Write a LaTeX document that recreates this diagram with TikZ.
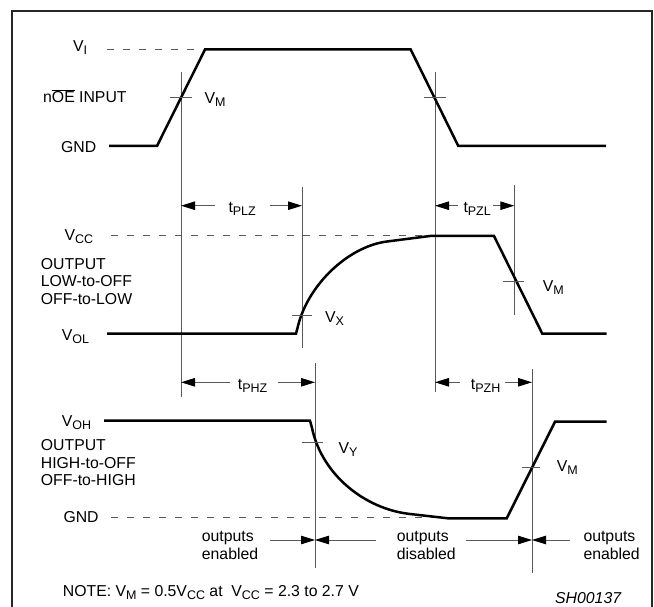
\documentclass[tikz,border=0pt]{standalone}
\usepackage{fontspec}
\setmainfont{Liberation Sans}
\usetikzlibrary{arrows.meta}
\newcommand{\sbs}[1]{\raisebox{-3pt}{\fontsize{12.5}{12.5}\selectfont #1}}
\newcommand{\ovl}[1]{\ensuremath{\overline{\mbox{#1}}}}
\newcommand{\lbfont}{\fontsize{15.8}{17.5}\selectfont}
\begin{document}
\begin{tikzpicture}[x=1pt,y=-1pt,
  lbl/.style={inner sep=0pt, anchor=base west, font=\lbfont},
  wave/.style={line width=2.5pt, black},
  thinln/.style={line width=0.9pt, black!65},
  dashln/.style={line width=0.9pt, black!65, dash pattern=on 7pt off 9pt},
  dim/.style={thinln, -{Triangle[length=14pt,width=8.5pt,color=black]}},
  frame/.style={line width=2pt, black!85}]
\useasboundingbox (0,0) rectangle (654,607);
% frame
\draw[frame] (12,625) -- (12,11) -- (652,11) -- (652,625);

% vertical reference lines
\coordinate (a1) at (181,72);   \coordinate (a2) at (181,397);
\coordinate (b1) at (435,72);   \coordinate (b2) at (435,392);
\coordinate (c1) at (302,187);  \coordinate (c2) at (302,348);
\coordinate (d1) at (514.3,185);\coordinate (d2) at (514.3,315);
\coordinate (e1) at (315,363);  \coordinate (e2) at (315,568);
\coordinate (f1) at (532,369);  \coordinate (f2) at (532,573);
\draw[thinln] (a1) -- (a2);
\draw[thinln] (b1) -- (b2);
\draw[thinln] (c1) -- (c2);
\draw[thinln] (d1) -- (d2);
\draw[thinln] (e1) -- (e2);
\draw[thinln] (f1) -- (f2);

% dashed levels
\coordinate (vi1) at (107,49.5);  \coordinate (vi2) at (197,49.5);
\coordinate (vc1) at (111,235.7); \coordinate (vc2) at (430,235.7);
\coordinate (g1) at (111,517.3);  \coordinate (g2) at (440,517.3);
\draw[dashln] (vi1) -- (vi2);
\draw[dashln] (vc1) -- (vc2);
\draw[dashln] (g1) -- (g2);

% waveforms
\draw[wave] (109,146) -- (157,146) -- (205,49.5) -- (410.7,49.5) -- (458.3,146) -- (606,146);
\draw[wave] (107,333.7) -- (296,333.7) -- (298,326) .. controls (308,285) and (348,246.5) .. (387,241.5)
  -- (430,236) -- (494,236) -- (542.3,333.7) -- (606.7,333.7);
\draw[wave] (104,420.7) -- (310,420.7) -- (312,428) .. controls (322,475) and (365,509) .. (410,514)
  -- (448,518.3) -- (506.7,518.3) -- (555,421.7) -- (606.7,421.7);

% ticks
\draw[thinln] (170,97.3) -- (192,97.3);
\draw[thinln] (424,97.3) -- (445.7,97.3);
\draw[thinln] (291.7,315.7) -- (311.7,315.7);
\draw[thinln] (503,281.7) -- (524,281.7);
\draw[thinln] (301.7,442.3) -- (323.3,442.3);
\draw[thinln] (521.7,467.3) -- (540,467.3);

% dimension arrows
\coordinate (p1) at (215,205.7); \coordinate (p2) at (270,205.7);
\draw[dim] (p1) -- (a1 |- p1);
\draw[dim] (p2) -- (c1 |- p2);
\coordinate (q1) at (458,205.7); \coordinate (q2) at (493,205.7);
\draw[dim] (q1) -- (b1 |- q1);
\draw[dim] (q2) -- (d1 |- q2);
\coordinate (r1) at (230,382.3); \coordinate (r2) at (278,382.3);
\draw[dim] (r1) -- (a1 |- r1);
\draw[dim] (r2) -- (e1 |- r2);
\coordinate (s1) at (460,382.3); \coordinate (s2) at (505,382.3);
\draw[dim] (s1) -- (b1 |- s1);
\draw[dim] (s2) -- (f1 |- s2);
\coordinate (o1) at (270,540); \coordinate (o2) at (376,540);
\coordinate (o3) at (466,540); \coordinate (o4) at (570,540);
\draw[dim] (o1) -- (e1 |- o1);
\draw[dim] (o2) -- (e1 |- o2);
\draw[dim] (o3) -- (f1 |- o3);
\draw[dim] (o4) -- (f1 |- o4);

% labels
\node[lbl] (lVI) at (73,51.7) {V\sbs{I}};
\node[lbl] (lnOE) at (43,102.7) {n\ovl{OE} INPUT};
\node[lbl] (lVM1) at (204.3,104) {V\sbs{M}};
\node[lbl] (lGND1) at (61,152.7) {GND};
\node[lbl] (ltPLZ) at (228.3,212.7) {t\sbs{PLZ}};
\node[lbl] (ltPZL) at (463.3,212.7) {t\sbs{PZL}};
\node[lbl] (lVCC) at (64.3,240.7) {V\sbs{CC}};
\node[lbl] (lO1a) at (40.7,269.3) {OUTPUT};
\node[lbl] (lO1b) at (40.7,286.8) {LOW-to-OFF};
\node[lbl] (lO1c) at (40.7,304.3) {OFF-to-LOW};
\node[lbl] (lVOL) at (61.7,340) {V\sbs{OL}};
\node[lbl] (lVX) at (325,322.5) {V\sbs{X}};
\node[lbl] (lVM2) at (542.7,291.7) {V\sbs{M}};
\node[lbl] (ltPHZ) at (237.7,389.3) {t\sbs{PHZ}};
\node[lbl] (ltPZH) at (470.7,389.3) {t\sbs{PZH}};
\node[lbl] (lVOH) at (61.7,426.7) {V\sbs{OH}};
\node[lbl] (lO2a) at (40.7,450.7) {OUTPUT};
\node[lbl] (lO2b) at (40.7,468.2) {HIGH-to-OFF};
\node[lbl] (lO2c) at (40.7,485.7) {OFF-to-HIGH};
\node[lbl] (lVY) at (338.3,453.3) {V\sbs{Y}};
\node[lbl] (lVM3) at (556.7,471.7) {V\sbs{M}};
\node[lbl] (lGND3) at (63.3,522.7) {GND};
\node[lbl] (le1a) at (201.7,541.5) {outputs};
\node[lbl] (le1b) at (201.7,559) {enabled};
\node[lbl] (lda) at (396.7,541.5) {outputs};
\node[lbl] (ldb) at (396.7,559) {disabled};
\node[lbl] (le2a) at (583.3,541.5) {outputs};
\node[lbl] (le2b) at (583.3,559) {enabled};
\node[lbl] (lnote) at (62.7,596.7) {NOTE: V\sbs{M} = 0.5V\sbs{CC} at\ \ V\sbs{CC} = 2.3 to 2.7 V};
\node[lbl] (lsh) at (555,603.3) {\itshape SH00137};
\end{tikzpicture}
\end{document}
